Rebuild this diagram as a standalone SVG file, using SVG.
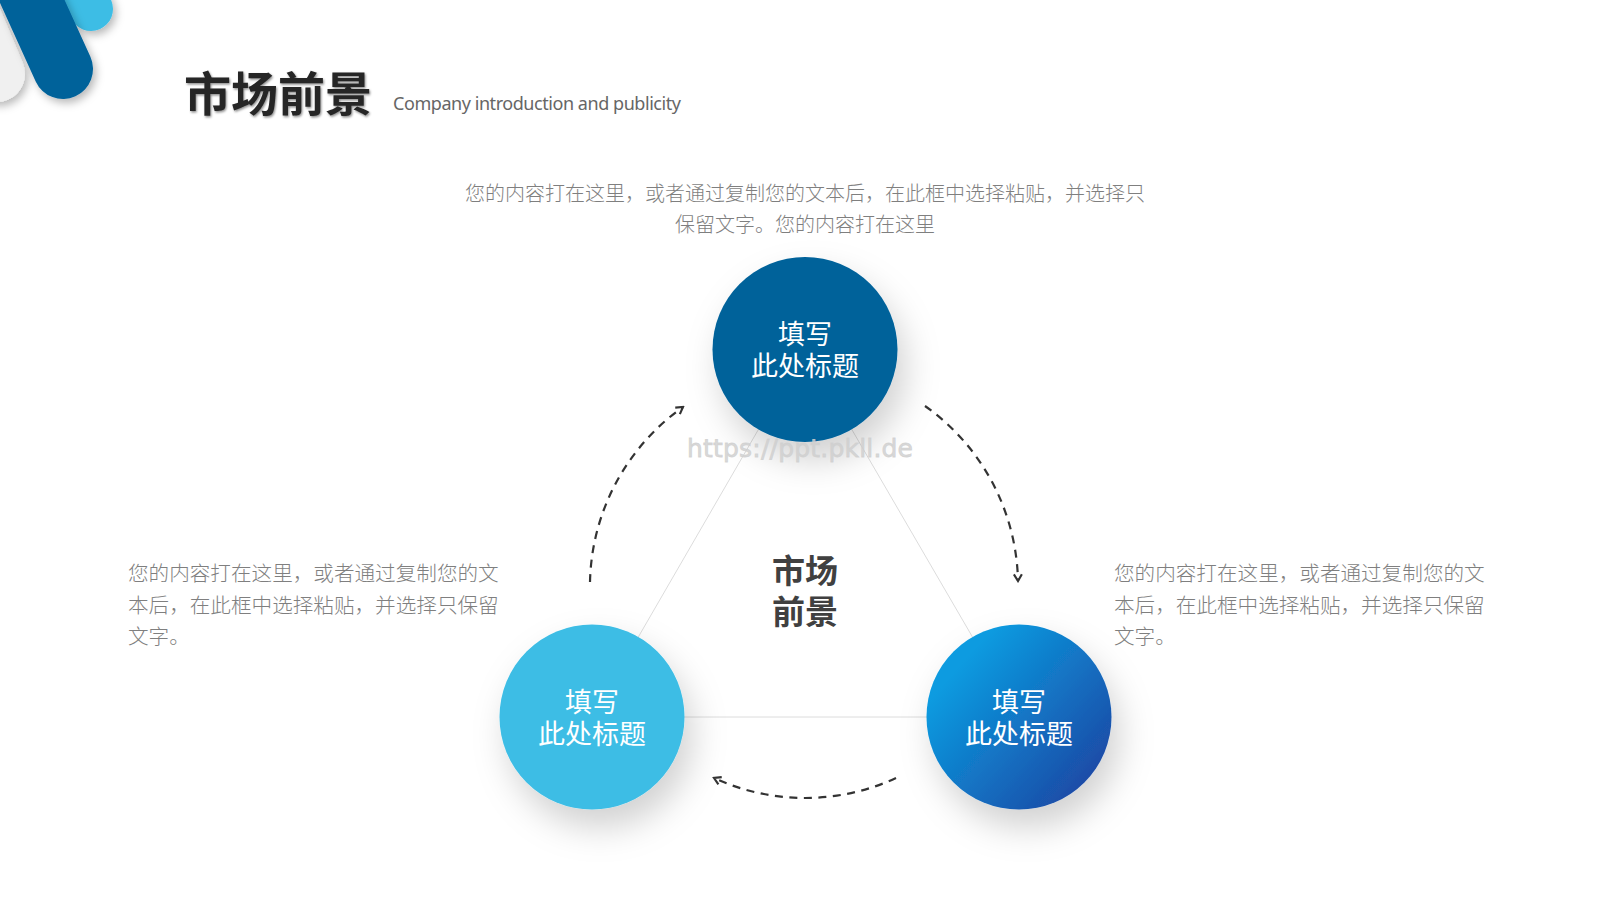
<svg xmlns="http://www.w3.org/2000/svg" width="1600" height="900" viewBox="0 0 1600 900">
<style>
text{font-family:"Noto Sans CJK SC","Noto Sans",sans-serif}
.body{font-size:20px;fill:#7f7f7f;font-weight:300}
.side{font-size:20.6px}
.lbl{font-size:27px;fill:#fff;text-anchor:middle}
.mid{font-size:33px;fill:#404040;font-weight:700;text-anchor:middle}
.conn{fill:none;stroke:#333;stroke-width:2.2;stroke-dasharray:8 6.5}
.tri{stroke:#dcdcdc;stroke-width:1;fill:none}
</style>
<defs>
<filter id="sh" x="-50%" y="-50%" width="210%" height="210%"><feDropShadow dx="8" dy="18" stdDeviation="17" flood-color="#000" flood-opacity=".18"/></filter>
<filter id="ls" filterUnits="userSpaceOnUse" x="-60" y="-60" width="240" height="220"><feDropShadow dx="3" dy="4" stdDeviation="4" flood-color="#000" flood-opacity=".28"/></filter>
<filter id="ts" x="-5%" y="-10%" width="110%" height="130%"><feDropShadow dx="1" dy="1.5" stdDeviation="1" flood-color="#000" flood-opacity=".45"/></filter>
<linearGradient id="g3" x1="0.1" y1="0.15" x2="0.9" y2="0.85"><stop offset="0.1" stop-color="#0a9be0"/><stop offset="1" stop-color="#1c4aa6"/></linearGradient>
<marker id="arr" viewBox="0 0 12 12" refX="10" refY="6" markerWidth="10" markerHeight="10" markerUnits="userSpaceOnUse" orient="auto"><path d="M2 1.2 L10 6 L2 10.8" fill="none" stroke="#333" stroke-width="2.6"/></marker>
</defs>
<rect width="1600" height="900" fill="#fff"/>
<g id="logo">
<line x1="-30" y1="10" x2="-3" y2="74" stroke="#f0f0f0" stroke-width="56" stroke-linecap="round" filter="url(#ls)"/>
<line x1="70" y1="-40" x2="91" y2="9" stroke="#3dbde5" stroke-width="44" stroke-linecap="round" filter="url(#ls)"/>
<line x1="18" y1="-30" x2="63" y2="69" stroke="#05629a" stroke-width="60" stroke-linecap="round" filter="url(#ls)"/>
</g>
<g id="title">
<text x="184" y="111" font-size="47" font-weight="700" fill="#262626" filter="url(#ts)">市场前景</text>
<text x="393" y="110" font-size="18" fill="#666" textLength="288" style="font-family:'Noto Sans',sans-serif">Company introduction and publicity</text>
</g>
<g id="connectors">
<path class="tri" d="M805 349 L592 717 L1019 717 Z"/>
<path class="conn" d="M925 406 A220 220 0 0 1 1018 581" marker-end="url(#arr)"/>
<path class="conn" d="M590 582 A220 220 0 0 1 683 407" marker-end="url(#arr)"/>
<path class="conn" d="M896 778 A217 217 0 0 1 714 778" marker-end="url(#arr)"/>
</g>
<g id="node-top">
<circle cx="805" cy="349.500" r="92.5" fill="#05629a" filter="url(#sh)"/>
<text class="lbl" x="805" y="344">填写</text><text class="lbl" x="805" y="376">此处标题</text>
</g>
<g id="node-left">
<circle cx="592" cy="717" r="92.5" fill="#3dbde5" filter="url(#sh)"/>
<text class="lbl" x="592" y="712">填写</text><text class="lbl" x="592" y="744">此处标题</text>
</g>
<g id="node-right">
<circle cx="1019" cy="717" r="92.5" fill="url(#g3)" filter="url(#sh)"/>
<text class="lbl" x="1019" y="712">填写</text><text class="lbl" x="1019" y="744">此处标题</text>
</g>
<g id="center">
<text class="mid" x="805" y="583">市场</text><text class="mid" x="805" y="623.500">前景</text>
</g>
<g id="desc-top">
<text class="body" x="805" y="201" text-anchor="middle">您的内容打在这里，或者通过复制您的文本后，在此框中选择粘贴，并选择只</text>
<text class="body" x="805" y="232" text-anchor="middle">保留文字。您的内容打在这里</text>
</g>
<g id="desc-left">
<text class="body side" x="128" y="581">您的内容打在这里，或者通过复制您的文</text>
<text class="body side" x="128" y="613">本后，在此框中选择粘贴，并选择只保留</text>
<text class="body side" x="128" y="643.500">文字。</text>
</g>
<g id="desc-right">
<text class="body side" x="1114" y="581">您的内容打在这里，或者通过复制您的文</text>
<text class="body side" x="1114" y="613">本后，在此框中选择粘贴，并选择只保留</text>
<text class="body side" x="1114" y="643.500">文字。</text>
</g>
<text id="watermark" x="687" y="457" font-size="25" fill="#cfcfcf" stroke="#cfcfcf" stroke-width=".8" fill-opacity=".8" stroke-opacity=".8" textLength="226" style="font-family:'DejaVu Sans',sans-serif">https://ppt.pkll.de</text>
</svg>
